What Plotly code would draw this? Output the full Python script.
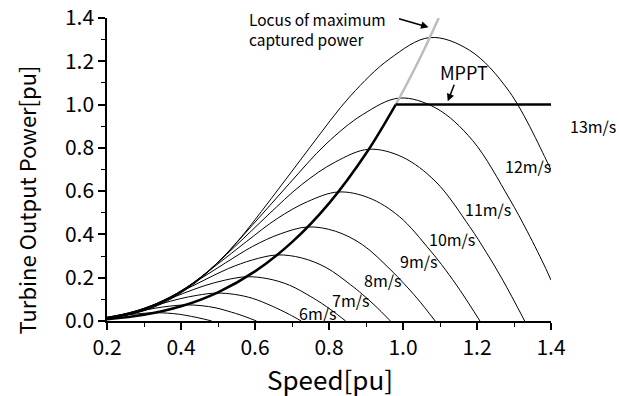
import plotly.graph_objects as go

FONT = "Noto Sans CJK JP"

# ---- data ----
wind_labels = ["13m/s", "12m/s", "11m/s", "10m/s", "9m/s", "8m/s", "7m/s", "6m/s"]

speed_13 = [0.2, 0.322, 0.429, 0.536, 0.644, 0.751, 0.858, 0.965, 1.0725, 1.180, 1.287, 1.394, 1.4]
power_13 = [0.0096, 0.0602, 0.1637, 0.3353, 0.5657, 0.808, 1.0398, 1.2127, 1.3096, 1.2507, 1.0608, 0.7203, 0.699]

speed_12 = [0.2, 0.297, 0.396, 0.495, 0.594, 0.693, 0.792, 0.891, 0.99, 1.089, 1.188, 1.287, 1.3365, 1.386, 1.4]
power_12 = [0.0103, 0.0474, 0.1288, 0.2637, 0.445, 0.6355, 0.8178, 0.9538, 1.03, 0.9837, 0.8343, 0.5665, 0.412, 0.2421, 0.1887]

speed_11 = [0.2, 0.272, 0.363, 0.454, 0.545, 0.635, 0.726, 0.817, 0.9075, 0.998, 1.089, 1.180, 1.225, 1.2705, 1.329]
power_11 = [0.011, 0.0365, 0.0992, 0.2031, 0.3427, 0.4895, 0.63, 0.7347, 0.7934, 0.7577, 0.6427, 0.4364, 0.3174, 0.1864, 0.0]

speed_10 = [0.2, 0.2475, 0.33, 0.4125, 0.495, 0.5775, 0.66, 0.7425, 0.825, 0.9075, 0.99, 1.0725, 1.114, 1.155, 1.208]
power_10 = [0.012, 0.0274, 0.0745, 0.1526, 0.2575, 0.3678, 0.4733, 0.552, 0.5961, 0.5693, 0.4828, 0.3279, 0.2384, 0.1401, 0.0]

speed_9 = [0.2, 0.2228, 0.297, 0.371, 0.4455, 0.52, 0.594, 0.668, 0.7425, 0.817, 0.891, 0.965, 1.002, 1.0395, 1.087]
power_9 = [0.0131, 0.02, 0.0543, 0.1112, 0.1877, 0.2681, 0.345, 0.4023, 0.4345, 0.415, 0.3519, 0.239, 0.1738, 0.1021, 0.0]

speed_8 = [0.2, 0.264, 0.33, 0.396, 0.462, 0.528, 0.594, 0.66, 0.726, 0.792, 0.858, 0.891, 0.924, 0.966]
power_8 = [0.0145, 0.0382, 0.0781, 0.1318, 0.1883, 0.2423, 0.2826, 0.3052, 0.2915, 0.2472, 0.1679, 0.1221, 0.0717, 0.0]

speed_7 = [0.2, 0.231, 0.289, 0.3465, 0.404, 0.462, 0.52, 0.5775, 0.635, 0.693, 0.751, 0.780, 0.8085, 0.845]
power_7 = [0.0154, 0.0256, 0.0523, 0.0883, 0.1261, 0.1623, 0.1893, 0.2044, 0.1952, 0.1656, 0.1124, 0.0818, 0.048, 0.0]

speed_6 = [0.2, 0.2475, 0.297, 0.3465, 0.396, 0.4455, 0.495, 0.5445, 0.594, 0.6435, 0.668, 0.693, 0.725]
power_6 = [0.0166, 0.033, 0.0556, 0.0795, 0.1023, 0.1193, 0.1288, 0.123, 0.1043, 0.0708, 0.0515, 0.0303, 0.0]

speed_5 = [0.2, 0.2475, 0.289, 0.33, 0.371, 0.4125, 0.454, 0.495, 0.536, 0.557, 0.5775, 0.604]
power_5 = [0.0173, 0.0322, 0.046, 0.0592, 0.069, 0.0745, 0.0711, 0.0603, 0.041, 0.0298, 0.0175, 0.0]

speed_4 = [0.2, 0.231, 0.264, 0.297, 0.33, 0.363, 0.396, 0.429, 0.4455, 0.462, 0.483]
power_4 = [0.0169, 0.0235, 0.0303, 0.0353, 0.0381, 0.0364, 0.0309, 0.021, 0.0152, 0.009, 0.0]

mppt_speed = [0.2, 0.3, 0.4, 0.5, 0.6, 0.7, 0.8, 0.9, 0.9803]
mppt_power = [0.0085, 0.0287, 0.0679, 0.1327, 0.2293, 0.3641, 0.5435, 0.7738, 1.0]
flat_speed = [0.9803, 1.4]
flat_power = [1.0, 1.0]

locus_speed = [0.9803, 1.0, 1.05, 1.0966]
locus_power = [1.0, 1.0615, 1.2288, 1.4]

curves = [
    (speed_13, power_13), (speed_12, power_12), (speed_11, power_11),
    (speed_10, power_10), (speed_9, power_9), (speed_8, power_8),
    (speed_7, power_7), (speed_6, power_6), (speed_5, power_5), (speed_4, power_4),
]

# label anchor positions (left edge, vertical centre) in data units
label_x = [None, 1.2695, 1.1613, 1.064, 0.9856, 0.888, 0.8019, 0.7127]
label_y = [0.90, 0.7176, 0.5185, 0.38, 0.278, 0.188, 0.098, 0.038]

fig = go.Figure()
for sx, py in curves:
    fig.add_trace(go.Scatter(x=sx, y=py, mode="lines", line=dict(color="black", width=1, shape="spline"),
                             showlegend=False, hoverinfo="skip"))
fig.add_trace(go.Scatter(x=locus_speed, y=locus_power, mode="lines",
                         line=dict(color="#bdbdbd", width=2.5, shape="spline"), showlegend=False))
fig.add_trace(go.Scatter(x=mppt_speed, y=mppt_power, mode="lines",
                         line=dict(color="black", width=2.5, shape="spline"), showlegend=False))
fig.add_trace(go.Scatter(x=flat_speed, y=flat_power, mode="lines",
                         line=dict(color="black", width=2.5), showlegend=False))

LAB = dict(family=FONT, size=16, color="black")
ann = []
for i, lab in enumerate(wind_labels):
    if label_x[i] is None:
        ann.append(dict(x=1.038, y=label_y[i], xref="paper", yref="y", text=lab, showarrow=False,
                        xanchor="left", yanchor="middle", font=LAB))
    else:
        ann.append(dict(x=label_x[i], y=label_y[i], xref="x", yref="y", text=lab, showarrow=False,
                        xanchor="left", yanchor="middle", font=LAB))

ann.append(dict(x=0.3146, y=1.0386, xref="paper", yref="paper", text="Locus of maximum<br>captured power",
                showarrow=False, xanchor="left", yanchor="top", align="left",
                font=dict(family=FONT, size=15.5, color="black")))
ann.append(dict(x=1.069, y=1.357, xref="x", yref="y", text="", showarrow=True,
                ax=-31, ay=-9, arrowhead=2, arrowsize=1, arrowwidth=1.5, arrowcolor="black"))
ann.append(dict(x=1.0937, y=1.1516, xref="x", yref="y", text="MPPT", showarrow=False,
                xanchor="left", yanchor="middle", font=dict(family=FONT, size=18, color="black")))
ann.append(dict(x=1.121, y=1.015, xref="x", yref="y", text="", showarrow=True,
                ax=7, ay=-18, arrowhead=2, arrowsize=1, arrowwidth=1.5, arrowcolor="black"))
ann.append(dict(x=0.502, y=-0.19, xref="paper", yref="paper", text="Speed[pu]", showarrow=False,
                xanchor="center", yanchor="middle", font=dict(family=FONT, size=26, color="black")))
ann.append(dict(x=-0.183, y=0.40, xref="paper", yref="paper", text="Turbine Output Power[pu]", showarrow=False,
                textangle=-90, xanchor="center", yanchor="middle", font=dict(family=FONT, size=22, color="black")))

axis_common = dict(showgrid=False, zeroline=False, showline=True, linecolor="black", linewidth=1.5,
                   ticks="outside", ticklen=7, tickwidth=1.5, tickcolor="black", mirror=False,
                   tickformat=".1f", tickfont=dict(family=FONT, size=21, color="black"),
                   minor=dict(ticks="outside", ticklen=4, tickwidth=1, tickcolor="black", dtick=0.1))

fig.update_layout(
    width=619, height=396,
    margin=dict(l=107, r=68, t=18, b=75, autoexpand=False),
    paper_bgcolor="white", plot_bgcolor="white",
    xaxis=dict(range=[0.2, 1.4], dtick=0.2, tick0=0.2, **axis_common),
    yaxis=dict(range=[0, 1.4], dtick=0.2, tick0=0.0, **axis_common),
    annotations=ann,
)

fig.write_html("out.html")
